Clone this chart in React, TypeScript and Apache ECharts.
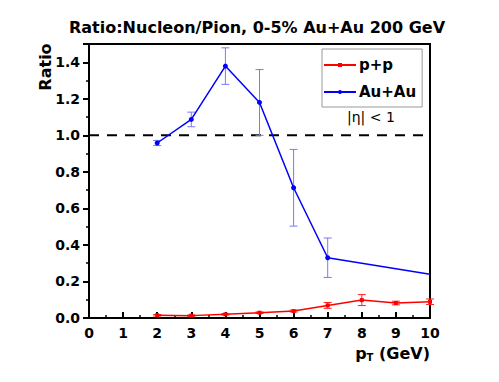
import React, { useEffect, useRef } from "react";
import * as echarts from "echarts";

const ppX = [2, 3, 4, 5, 6, 7, 8, 9, 10];
const ppY = [0.015, 0.013, 0.02, 0.029, 0.038, 0.069, 0.098, 0.082, 0.089];
const ppErr = [0.004, 0.004, 0.004, 0.004, 0.005, 0.016, 0.03, 0.01, 0.015];

const auX = [2, 3, 4, 5, 6, 7, 10];
const auY = [0.958, 1.087, 1.379, 1.18, 0.713, 0.33, 0.24];
const auErr = [0.014, 0.04, 0.1, 0.18, 0.21, 0.108, null];

const yTicks = [0.0, 0.2, 0.4, 0.6, 0.8, 1.0, 1.2, 1.4];

const BOLD = "'DejaVu Sans', 'Liberation Sans', Arial, sans-serif";

function errSeries(xs: number[], ys: number[], errs: (number | null)[], color: string) {
  const data: number[][] = [];
  xs.forEach((x, i) => {
    const e = errs[i];
    if (e != null) data.push([x, ys[i] - e, ys[i] + e]);
  });
  return {
    type: "custom",
    silent: true,
    z: 3,
    renderItem: (params: any, api: any) => {
      const x = api.value(0);
      const lo = api.coord([x, api.value(1)]);
      const hi = api.coord([x, api.value(2)]);
      const w = 4;
      const style = { stroke: color, lineWidth: 1 };
      return {
        type: "group",
        children: [
          { type: "line", shape: { x1: lo[0], y1: lo[1], x2: hi[0], y2: hi[1] }, style },
          { type: "line", shape: { x1: lo[0] - w, y1: lo[1], x2: lo[0] + w, y2: lo[1] }, style },
          { type: "line", shape: { x1: hi[0] - w, y1: hi[1], x2: hi[0] + w, y2: hi[1] }, style },
        ],
      };
    },
    data,
  };
}

export default function App() {
  const ref = useRef<HTMLDivElement>(null);
  useEffect(() => {
    if (!ref.current) return;
    const chart = echarts.init(ref.current, null, { renderer: "svg" });
    const axisCommon = {
      axisLine: { show: true, lineStyle: { color: "#000", width: 2 } },
      splitLine: { show: false },
    };
    chart.setOption({
      animation: false,
      backgroundColor: "#fff",
      title: {
        text: "Ratio:Nucleon/Pion, 0-5% Au+Au 200 GeV",
        left: 252,
        textAlign: "center",
        top: 14,
        textStyle: { fontFamily: BOLD, fontWeight: "bold", fontSize: 16, color: "#000" },
      },
      grid: {
        left: 89,
        right: 69,
        top: 44,
        bottom: 64,
        show: true,
        borderColor: "#000",
        borderWidth: 2,
      },
      legend: {
        data: ["p+p", "Au+Au"],
        orient: "vertical",
        left: 322,
        top: 49,
        width: 100,
        padding: [7, 6, 6, 1],
        itemGap: 9,
        itemWidth: 32,
        itemHeight: 5,
        borderColor: "#999",
        borderWidth: 1,
        textStyle: { fontFamily: BOLD, fontWeight: "bold", fontSize: 15, color: "#000", padding: [0, 0, 0, -2], lineHeight: 18 },
      },
      xAxis: [
        {
          type: "value",
          min: 0,
          max: 10,
          interval: 1,
          ...axisCommon,
          axisTick: { show: true, inside: true, length: 6, lineStyle: { width: 2, color: "#000" } },
          minorTick: { show: true, splitNumber: 2, length: 3, lineStyle: { width: 1.5, color: "#000" } },
          axisLabel: {
            fontFamily: BOLD,
            fontWeight: "bold",
            fontSize: 14,
            color: "#000",
            margin: 8,
          },
          name: "{p|p}{t|T}{p| (GeV)}",
          nameLocation: "end",
          nameGap: 0,
          nameTextStyle: {
            align: "right",
            verticalAlign: "top",
            padding: [26, 0, 0, 0],
            rich: {
              p: { fontFamily: BOLD, fontWeight: "bold", fontSize: 16, color: "#000" },
              t: { fontFamily: BOLD, fontWeight: "bold", fontSize: 10, color: "#000", verticalAlign: "bottom", padding: [8, 0, 0, 0] },
            },
          },
        },
      ],
      yAxis: [
        {
          type: "value",
          min: 0,
          max: 1.5,
          interval: 0.2,
          ...axisCommon,
          axisTick: { show: true, inside: false, length: 6, lineStyle: { width: 2, color: "#000" } },
          minorTick: { show: true, splitNumber: 2, length: 3, lineStyle: { width: 1.5, color: "#000" } },
          axisLabel: {
            fontFamily: BOLD,
            fontWeight: "bold",
            fontSize: 14,
            color: "#000",
            margin: 9,
            formatter: (v: number) => (yTicks.some((t) => Math.abs(t - v) < 1e-6) ? v.toFixed(1) : ""),
          },
        },
      ],
      graphic: [
        {
          type: "text",
          x: 45,
          y: 67,
          rotation: Math.PI / 2,
          style: {
            text: "Ratio",
            fontFamily: BOLD,
            fontWeight: "bold",
            fontSize: 16,
            fill: "#000",
            align: "center",
            verticalAlign: "middle",
          },
        },
        {
          type: "text",
          left: 347,
          top: 110,
          style: { text: "|η| < 1", fontFamily: BOLD, fontSize: 14, fill: "#000" },
        },
      ],
      series: [
        {
          name: "dash",
          type: "line",
          data: [[0, 1.0], [10, 1.0]],
          symbol: "none",
          silent: true,
          z: 1,
          lineStyle: { color: "#000", width: 2, type: [10, 8] },
        },
        errSeries(ppX, ppY, ppErr, "#ff2020"),
        errSeries(auX, auY, auErr, "#7878ff"),
        {
          name: "p+p",
          type: "line",
          data: ppX.map((x, i) => [x, ppY[i]]),
          symbol: "rect",
          symbolSize: 4,
          color: "#ff0000",
          lineStyle: { color: "#ff0000", width: 1.5 },
          itemStyle: { color: "#ff0000" },
          z: 4,
        },
        {
          name: "Au+Au",
          type: "line",
          data: auX.map((x, i) => [x, auY[i]]),
          symbol: (v: number[]) => (v[0] === 10 ? "none" : "circle"),
          symbolSize: 5,
          color: "#0000ff",
          lineStyle: { color: "#0000ff", width: 1.5 },
          itemStyle: { color: "#0000ff" },
          z: 4,
        },
      ],
    });
    return () => chart.dispose();
  }, []);
  return <div ref={ref} style={{ width: 499, height: 382, position: "absolute", left: 0, top: 0 }} />;
}
